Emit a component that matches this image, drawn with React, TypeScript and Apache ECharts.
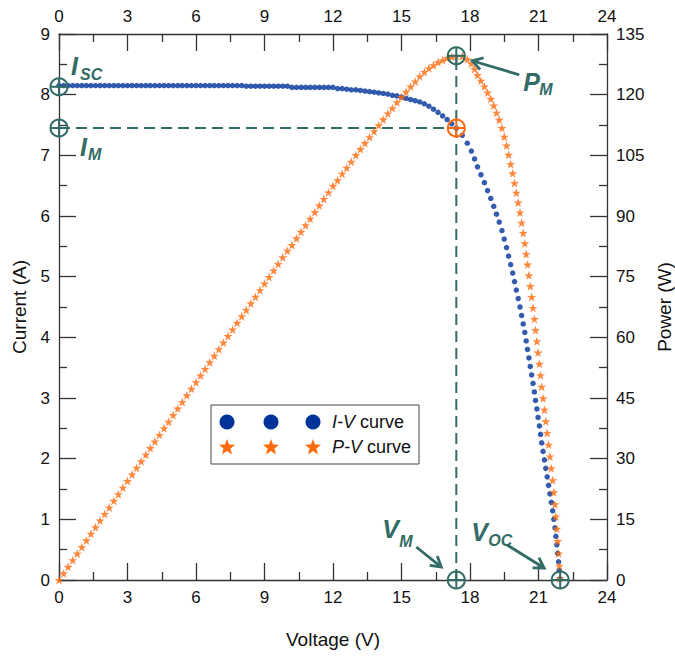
import React, { useEffect, useRef } from 'react';
import * as echarts from 'echarts';

// ---- Data ----
const voltage = [
  0, 0.2, 0.4, 0.6, 0.8, 1, 1.2, 1.4, 1.6, 1.8, 2, 2.2, 2.4, 2.6, 2.8, 3, 3.2, 3.4, 3.6, 3.8,
  4, 4.2, 4.4, 4.6, 4.8, 5, 5.2, 5.4, 5.6, 5.8, 6, 6.2, 6.4, 6.6, 6.8, 7, 7.2, 7.4, 7.6, 7.8,
  8, 8.2, 8.4, 8.6, 8.8, 9, 9.2, 9.4, 9.6, 9.8, 10, 10.2, 10.4, 10.6, 10.8, 11, 11.2, 11.4, 11.6, 11.8,
  12, 12.2, 12.4, 12.6, 12.8, 13, 13.2, 13.4, 13.6, 13.8, 14, 14.2, 14.4, 14.6, 14.8, 15, 15.2, 15.4, 15.6, 15.8,
  16, 16.2, 16.4, 16.6, 16.8, 17, 17.2, 17.4,
  17.66, 17.88, 18.06, 18.2, 18.33, 18.48, 18.63, 18.77, 18.91, 19.04,
  19.16, 19.28, 19.4, 19.5, 19.6, 19.69, 19.78, 19.87, 19.95, 20.03,
  20.11, 20.19, 20.26, 20.33, 20.4, 20.46, 20.52, 20.58, 20.64, 20.7,
  20.76, 20.82, 20.87, 20.93, 20.98, 21.04, 21.09, 21.14, 21.2, 21.26,
  21.32, 21.38, 21.44, 21.5, 21.56, 21.62, 21.67, 21.72, 21.76, 21.8,
  21.84, 21.88, 21.91, 21.94,
];

const current = [
  8.15, 8.15, 8.15, 8.15, 8.15, 8.15, 8.15, 8.15, 8.15, 8.15, 8.15, 8.15, 8.15, 8.15, 8.15, 8.15, 8.15, 8.15, 8.15, 8.15,
  8.15, 8.15, 8.15, 8.15, 8.15, 8.15, 8.15, 8.15, 8.15, 8.15, 8.15, 8.15, 8.15, 8.15, 8.15, 8.15, 8.15, 8.15, 8.15, 8.15,
  8.15, 8.14, 8.14, 8.14, 8.14, 8.14, 8.14, 8.14, 8.14, 8.14, 8.14, 8.12, 8.12, 8.12, 8.12, 8.12, 8.12, 8.12, 8.12, 8.12,
  8.12, 8.1, 8.1, 8.09, 8.08, 8.08, 8.07, 8.06, 8.05, 8.04, 8.03, 8.02, 8.01, 7.99, 7.98, 7.96, 7.94, 7.92, 7.9, 7.88,
  7.85, 7.81, 7.76, 7.71, 7.65, 7.59, 7.52, 7.45,
  7.33, 7.2, 7.07, 6.94, 6.81, 6.68, 6.55, 6.42, 6.29, 6.16,
  6.03, 5.9, 5.76, 5.62, 5.48, 5.34, 5.2, 5.06, 4.92, 4.78,
  4.64, 4.5, 4.36, 4.22, 4.08, 3.94, 3.8, 3.66, 3.52, 3.38,
  3.24, 3.1, 2.96, 2.82, 2.68, 2.54, 2.4, 2.26, 2.12, 1.98,
  1.84, 1.7, 1.56, 1.42, 1.28, 1.14, 1, 0.86, 0.72, 0.58,
  0.44, 0.3, 0.16, 0.02,
];

const power = [
  0, 1.63, 3.26, 4.89, 6.52, 8.15, 9.78, 11.41, 13.04, 14.67, 16.3, 17.93, 19.56, 21.19, 22.82, 24.45, 26.08, 27.71, 29.34, 30.97,
  32.6, 34.23, 35.86, 37.49, 39.12, 40.75, 42.38, 44.01, 45.64, 47.27, 48.9, 50.53, 52.16, 53.79, 55.42, 57.05, 58.68, 60.31, 61.94, 63.57,
  65.2, 66.75, 68.38, 70.0, 71.63, 73.26, 74.89, 76.52, 78.14, 79.77, 81.4, 82.82, 84.45, 86.07, 87.7, 89.32, 90.94, 92.57, 94.19, 95.82,
  97.44, 98.82, 100.44, 101.93, 103.42, 105.04, 106.52, 108.0, 109.48, 110.95, 112.42, 113.88, 115.34, 116.65, 118.1, 119.4, 120.69, 121.97, 123.24, 124.5,
  125.6, 126.52, 127.26, 127.99, 128.52, 129.03, 129.34, 129.63,
  129.45, 128.74, 127.68, 126.31, 124.83, 123.45, 122.03, 120.5, 118.94, 117.29,
  115.53, 113.75, 111.74, 109.59, 107.41, 105.14, 102.86, 100.54, 98.15, 95.74,
  93.31, 90.86, 88.33, 85.79, 83.23, 80.61, 77.98, 75.32, 72.65, 69.97,
  67.26, 64.54, 61.78, 59.02, 56.23, 53.44, 50.62, 47.78, 44.94, 42.09,
  39.23, 36.35, 33.45, 30.53, 27.6, 24.65, 21.67, 18.68, 15.67, 12.64,
  9.61, 6.56, 3.51, 0.44,
];

// key points
const isc = 8.13;
const vm = 17.4;
const im = 7.45;
const pm = 129.6;
const voc = 21.95;

const voltageRange = [0, 24, 3];
const currentRange = [0, 9, 1];
const powerRange = [0, 135, 15];

// annotation rows: [x, y, kind]
const currentMarks = [
  [0, isc, 0],
  [0, im, 1],
  [vm, im, 2],
  [vm, 0, 3],
  [voc, 0, 4],
];
const powerMarks = [[vm, pm, 5]];

const legendItems = ['I-V', 'P-V'];

// ---- styles ----
const TEAL = '#336B66';
const BLUE = '#00339A';
const ORANGE = '#FF6A0D';
const AXIS = '#333333';
const FONT = '"Liberation Sans", Arial, Helvetica, sans-serif';
const STAR = 'path://M50,2 L61.8,36.2 L97.6,36.2 L68.6,57.6 L79.4,92 L50,71 L20.6,92 L31.4,57.6 L2.4,36.2 L38.2,36.2 Z';

function starPoints(cx: number, cy: number, R: number, r: number) {
  const pts: number[][] = [];
  for (let i = 0; i < 10; i++) {
    const a = -Math.PI / 2 + (i * Math.PI) / 5;
    const rad = i % 2 === 0 ? R : r;
    pts.push([cx + rad * Math.cos(a), cy + rad * Math.sin(a)]);
  }
  return pts;
}

function crossCircle(cx: number, cy: number, color: string) {
  const r = 8.5;
  return [
    { type: 'circle', shape: { cx, cy, r }, style: { fill: 'none', stroke: color, lineWidth: 2 } },
    { type: 'line', shape: { x1: cx - r, y1: cy, x2: cx + r, y2: cy }, style: { stroke: color, lineWidth: 2 } },
    { type: 'line', shape: { x1: cx, y1: cy - r, x2: cx, y2: cy + r }, style: { stroke: color, lineWidth: 2 } },
  ];
}

function label(x: number, y: number, main: string, sub: string, subDx: number, subDy: number) {
  const base = { fill: TEAL, fontFamily: FONT, fontWeight: 'bold', fontStyle: 'italic', align: 'left', verticalAlign: 'middle' };
  return [
    { type: 'text', x, y, style: { ...base, text: main, fontSize: 25 } },
    { type: 'text', x: x + subDx, y: y + subDy, style: { ...base, text: sub, fontSize: 16 } },
  ];
}

function arrow(x1: number, y1: number, x2: number, y2: number) {
  const dx = x2 - x1;
  const dy = y2 - y1;
  const len = Math.sqrt(dx * dx + dy * dy);
  const ux = dx / len;
  const uy = dy / len;
  const hl = 10;
  const hw = 6;
  const bx = x2 - ux * hl;
  const by = y2 - uy * hl;
  return [
    { type: 'line', shape: { x1, y1, x2: x2 - ux * 1.5, y2: y2 - uy * 1.5 }, style: { stroke: TEAL, lineWidth: 2.8 } },
    {
      type: 'polyline',
      shape: { points: [[bx - uy * hw, by + ux * hw], [x2, y2], [bx + uy * hw, by - ux * hw]] },
      style: { stroke: TEAL, lineWidth: 2.8, fill: 'none', lineJoin: 'miter' },
    },
  ];
}

function renderMark(params: any, api: any) {
  const p = api.coord([api.value(0), api.value(1)]);
  const cx = p[0];
  const cy = p[1];
  const k = api.value(2);
  let children: any[] = crossCircle(cx, cy, k === 2 ? ORANGE : TEAL);
  if (k === 0) children = children.concat(label(cx + 12, cy - 21, 'I', 'SC', 9, 9));
  if (k === 1) children = children.concat(label(cx + 21, cy + 19, 'I', 'M', 8, 7.5));
  if (k === 3) children = children.concat(label(cx - 74, cy - 51, 'V', 'M', 17, 12), arrow(cx - 40, cy - 33, cx - 15, cy - 13));
  if (k === 4) children = children.concat(label(cx - 89, cy - 48.5, 'V', 'OC', 17, 8.5), arrow(cx - 53, cy - 35, cx - 16, cy - 12));
  if (k === 5) children = children.concat(label(cx + 67, cy + 26.5, 'P', 'M', 16, 7.5), arrow(cx + 63, cy + 19, cx + 16, cy + 5));
  return { type: 'group', children };
}

function axisBase(range: number[]) {
  return {
    type: 'value',
    min: range[0],
    max: range[1],
    interval: range[2],
    axisLine: { show: true, onZero: false, lineStyle: { color: AXIS, width: 1.3 } },
    axisTick: { show: true, inside: true, length: 17, lineStyle: { color: AXIS, width: 1.3 } },
    minorTick: { show: true, splitNumber: 2, length: 8, lineStyle: { color: AXIS, width: 1.3 } },
    splitLine: { show: false },
    minorSplitLine: { show: false },
    axisLabel: { fontSize: 17, color: '#111', fontFamily: FONT, margin: 9 },
    nameTextStyle: { fontSize: 19, color: '#111', fontFamily: FONT },
  };
}

export default function App() {
  const ref = useRef<HTMLDivElement>(null);

  useEffect(() => {
    if (!ref.current) return;
    const chart = echarts.init(ref.current, null, { renderer: 'svg' });

    const legendGraphics: any[] = [
      { type: 'rect', shape: { x: 211, y: 405, width: 208, height: 59 }, style: { fill: '#fff', stroke: '#444', lineWidth: 1 } },
    ];
    const symbolXs = [227, 271, 313];
    symbolXs.forEach((x) => {
      legendGraphics.push({ type: 'circle', shape: { cx: x, cy: 422, r: 7.5 }, style: { fill: BLUE } });
      legendGraphics.push({ type: 'polygon', shape: { points: starPoints(x, 447.5, 8.5, 3.6) }, style: { fill: ORANGE } });
    });
    legendItems.forEach((name, i) => {
      legendGraphics.push({
        type: 'text',
        x: 332,
        y: 422 + i * 25,
        style: {
          text: '{i|' + name + '} curve',
          fontSize: 18,
          fontFamily: FONT,
          fill: '#111',
          verticalAlign: 'middle',
          align: 'left',
          rich: { i: { fontStyle: 'italic', fontSize: 18, fontFamily: FONT, fill: '#111' } },
        },
      });
    });

    const option: any = {
      animation: false,
      backgroundColor: '#ffffff',
      grid: { left: 59, right: 68, top: 34, bottom: 77, containLabel: false, outerBoundsMode: 'none' },
      xAxis: [
        {
          ...axisBase(voltageRange),
          position: 'bottom',
          name: 'Voltage (V)',
          nameLocation: 'middle',
          nameGap: 50,
        },
        {
          ...axisBase(voltageRange),
          position: 'top',
        },
      ],
      yAxis: [
        {
          ...axisBase(currentRange),
          position: 'left',
          name: 'Current (A)',
          nameLocation: 'middle',
          nameRotate: 90,
          nameGap: 30,
        },
        {
          ...axisBase(powerRange),
          position: 'right',
          name: 'Power (W)',
          nameLocation: 'middle',
          nameRotate: 90,
          nameGap: 48,
        },
      ],
      graphic: legendGraphics,
      series: [
        {
          type: 'line',
          xAxisIndex: 0,
          yAxisIndex: 0,
          data: [[0, im], [vm, im]],
          symbol: 'none',
          silent: true,
          lineStyle: { color: TEAL, width: 2, type: [11, 6] },
          z: 1,
        },
        {
          type: 'line',
          xAxisIndex: 0,
          yAxisIndex: 1,
          data: [[vm, 0], [vm, pm]],
          symbol: 'none',
          silent: true,
          lineStyle: { color: TEAL, width: 2, type: [11, 6] },
          z: 1,
        },
        {
          type: 'scatter',
          name: 'I-V curve',
          xAxisIndex: 0,
          yAxisIndex: 0,
          data: voltage.map((v, i) => [v, current[i]]),
          symbol: 'circle',
          symbolSize: 5.5,
          itemStyle: { color: BLUE },
          z: 2,
        },
        {
          type: 'scatter',
          name: 'P-V curve',
          xAxisIndex: 0,
          yAxisIndex: 1,
          data: voltage.map((v, i) => [v, power[i]]),
          symbol: STAR,
          symbolSize: 9,
          itemStyle: { color: ORANGE },
          z: 3,
        },
        {
          type: 'custom',
          xAxisIndex: 0,
          yAxisIndex: 0,
          data: currentMarks,
          renderItem: renderMark,
          silent: true,
          z: 5,
        },
        {
          type: 'custom',
          xAxisIndex: 0,
          yAxisIndex: 1,
          data: powerMarks,
          renderItem: renderMark,
          silent: true,
          z: 5,
        },
      ],
    };

    chart.setOption(option);
    return () => {
      chart.dispose();
    };
  }, []);

  return (
    <div
      ref={ref}
      style={{ position: 'fixed', left: 0, top: 0, width: 675, height: 657, background: '#fff' }}
    />
  );
}
